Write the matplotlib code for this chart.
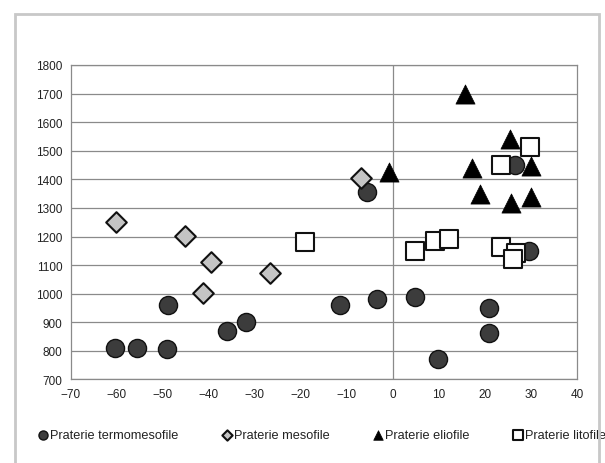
import matplotlib
matplotlib.use("Agg")
import matplotlib.pyplot as plt
from matplotlib.patches import Rectangle

plt.rcParams['font.family'] = ['Liberation Sans', 'DejaVu Sans']

# Praterie termomesofile
termo_x = [-60.4, -55.6, -49.1, -48.9, -36.1, -32.0, -11.6, -3.4, 4.9, 9.7, 20.8, 20.8, -5.7, 26.5, 29.5]
termo_y = [810, 810, 807, 962, 870, 901, 962, 981, 988, 772, 950, 862, 1356, 1450, 1150]

# Praterie mesofile
meso_x = [-60.2, -45.2, -39.6, -41.2, -26.6, -6.9]
meso_y = [1250, 1201, 1110, 1001, 1072, 1404]

# Praterie eliofile
elio_x = [-0.9, 15.6, 25.5, 17.1, 30.0, 19.0, 25.7, 30.0]
elio_y = [1427, 1699, 1541, 1439, 1446, 1349, 1316, 1337]

# Praterie litofile
lito_x = [29.7, 23.4, -19.2, 4.9, 9.2, 12.1, 23.4, 26.8, 26.0]
lito_y = [1512, 1450, 1182, 1150, 1185, 1191, 1162, 1142, 1121]

labels = ["Praterie termomesofile", "Praterie mesofile", "Praterie eliofile", "Praterie litofile"]

fig = plt.figure(figsize=(6.05, 4.64), dpi=100)
ax = fig.add_axes([0.1169, 0.18, 0.8368, 0.6778])

# outer chart frame
fig.patches.append(Rectangle((15 / 605, -0.05), 584 / 605, 1 - 15 / 464 + 0.05,
                             transform=fig.transFigure, fill=False,
                             edgecolor='#c8c8c8', lw=2))

grid_c = '#8a8a8a'
ax.set_xlim(-70, 40)
ax.set_ylim(700, 1800)
ax.set_xticks(range(-70, 41, 10))
ax.set_yticks(range(700, 1801, 100))
ax.grid(axis='y', color=grid_c, lw=0.9)
ax.axvline(0, color=grid_c, lw=0.9)
ax.set_axisbelow(True)
for s in ax.spines.values():
    s.set_color(grid_c)
    s.set_linewidth(0.9)
ax.tick_params(length=0, labelsize=8.5, colors='#222222', pad=6)

ax.scatter(termo_x, termo_y, s=170, marker='o', c='#3c3c3c', edgecolors='#111111', lw=1, label=labels[0], zorder=3)
ax.scatter(meso_x, meso_y, s=110, marker='D', c='#c4c4c4', edgecolors='#111111', lw=1.5, label=labels[1], zorder=3)
ax.scatter(elio_x, elio_y, s=190, marker='^', c='#000000', edgecolors='#000000', lw=0.5, label=labels[2], zorder=3)
ax.scatter(lito_x, lito_y, s=170, marker='s', c='#ffffff', edgecolors='#111111', lw=1.5, label=labels[3], zorder=3)

leg = ax.legend(loc='center left', bbox_to_anchor=(0.062, 0.06), bbox_transform=fig.transFigure,
                ncol=4, frameon=False, fontsize=9.2, markerscale=0.5, handletextpad=0.15,
                columnspacing=3.4, handlelength=0.8, borderaxespad=0, borderpad=0)
for t in leg.get_texts():
    t.set_color('#222222')

fig.savefig("out.png", dpi=100)
